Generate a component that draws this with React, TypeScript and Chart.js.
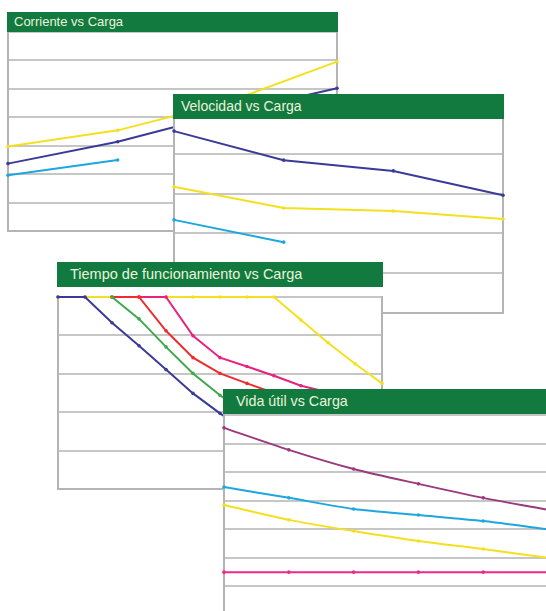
import React, { useEffect, useRef } from "react";
import { Chart, registerables } from "chart.js";

Chart.register(...registerables);

// ---------- Data ----------
const corrienteLabels = ["25%", "50%", "75%", "100%"];
const corrienteYellow = [2.97, 3.54, 4.53, 5.96];
const corrienteBlue = [2.37, 3.14, 4.14, 5.02];
const corrienteCyan = [1.96, 2.5, null, null];

const velocidadLabels = ["25%", "50%", "75%", "100%"];
const velocidadBlue = [4.57, 3.84, 3.57, 2.96];
const velocidadYellow = [3.17, 2.64, 2.56, 2.36];
const velocidadCyan = [2.34, 1.78, null, null];

const tiempoLabels = ["0", "1", "2", "3", "4", "5", "6", "7", "8", "9", "10", "11", "12"];
const tiempoBlue = [5, 5, 4.33, 3.73, 3.11, 2.49, 1.97, 1.5, null, null, null, null, null];
const tiempoGreen = [null, null, 5, 4.43, 3.7, 3.01, 2.44, 1.95, null, null, null, null, null];
const tiempoRed = [null, null, 5, 5, 4.12, 3.42, 3.01, 2.75, 2.5, null, null, null, null];
const tiempoPink = [null, null, null, 5, 5, 3.99, 3.42, 3.19, 2.95, 2.69, 2.52, null, null];
const tiempoYellow = [5, 5, 5, 5, 5, 5, 5, 5, 5, 4.4, 3.81, 3.26, 2.75];

const vidaLabels = ["0", "1", "2", "3", "4", "5"];
const vidaPurple = [6.55, 5.78, 5.11, 4.59, 4.1, 3.68];
const vidaCyan = [4.48, 4.1, 3.71, 3.5, 3.29, 3.0];
const vidaYellow = [3.85, 3.33, 2.94, 2.59, 2.31, 2.0];
const vidaPink = [1.5, 1.5, 1.5, 1.5, 1.5, 1.5];

// ---------- Styles ----------
const YELLOW = "#f4e01e";
const NAVY = "#3a3a98";
const CYAN = "#1ea6de";
const GREEN = "#3fa94e";
const RED = "#ee2c2e";
const PINK = "#e8237f";
const PURPLE = "#9a3a7e";
const PINK2 = "#ec2a8c";
const GRID = "#c6c6c6";
const BORDER = "#b4b4b4";
const HEADER = "#127a3e";
const HEADER_TEXT = "#e9f3dc";

type Series = { data: (number | null)[]; color: string };

type PanelProps = {
  title: string;
  left: number;
  right: number;
  top: number;
  bottom: number;
  headerTop: number;
  headerHeight: number;
  headerWidth: number;
  fontSize: number;
  textPad: number;
  labels: string[];
  yMax: number;
  series: Series[];
  tension: number;
};

function Panel(p: PanelProps) {
  const ref = useRef<HTMLCanvasElement>(null);
  const P = 6;
  const W = p.right - p.left;
  const H = p.bottom - p.top;

  useEffect(() => {
    if (!ref.current) return;
    const chart = new Chart(ref.current, {
      type: "line",
      data: {
        labels: p.labels,
        datasets: p.series.map((s) => ({
          data: s.data,
          borderColor: s.color,
          backgroundColor: s.color,
          borderWidth: 2,
          pointRadius: 1.8,
          pointBorderWidth: 0,
          pointHoverRadius: 1.8,
          tension: p.tension,
          clip: 6,
          spanGaps: false,
        })),
      },
      options: {
        responsive: false,
        animation: false,
        events: [],
        layout: { padding: P },
        plugins: { legend: { display: false }, tooltip: { enabled: false } },
        scales: {
          x: {
            type: "category",
            offset: false,
            grid: { display: false, drawTicks: false },
            ticks: { display: false },
            border: { display: true, color: BORDER, width: 2 },
          },
          y: {
            min: 0,
            max: p.yMax,
            ticks: { display: false, stepSize: 1 },
            grid: { color: GRID, lineWidth: 2, drawTicks: false },
            border: { display: true, color: BORDER, width: 2 },
          },
          y2: {
            position: "right",
            min: 0,
            max: 1,
            ticks: { display: false },
            grid: { display: false, drawTicks: false },
            border: { display: true, color: BORDER, width: 2 },
          },
        },
      },
    } as any);
    return () => chart.destroy();
  }, []);

  return (
    <>
      <div
        style={{
          position: "absolute",
          left: p.left,
          top: p.headerTop,
          width: W + 1,
          height: p.bottom - p.headerTop + 1,
          background: "#ffffff",
        }}
      />
      <canvas
        ref={ref}
        width={W + 2 * P}
        height={H + 2 * P}
        style={{
          position: "absolute",
          left: p.left - P,
          top: p.top - P,
          width: W + 2 * P,
          height: H + 2 * P,
        }}
      />
      <div
        style={{
          position: "absolute",
          left: p.left - 1,
          top: p.headerTop,
          width: p.headerWidth,
          height: p.headerHeight,
          background: HEADER,
          color: HEADER_TEXT,
          fontFamily: '"Liberation Sans", Arial, sans-serif',
          fontSize: p.fontSize,
          lineHeight: p.headerHeight + "px",
          paddingLeft: p.textPad,
          boxSizing: "border-box",
          whiteSpace: "nowrap",
        }}
      >
        {p.title}
      </div>
    </>
  );
}

export default function App() {
  return (
    <div
      style={{
        position: "absolute",
        left: 0,
        top: 0,
        width: 546,
        height: 611,
        overflow: "hidden",
        background: "#ffffff",
      }}
    >
      <Panel
        title="Corriente vs Carga"
        left={8}
        right={337}
        top={31.5}
        bottom={231}
        headerTop={12}
        headerHeight={20}
        headerWidth={331}
        fontSize={13}
        textPad={7}
        labels={corrienteLabels}
        yMax={7}
        tension={0}
        series={[
          { data: corrienteYellow, color: YELLOW },
          { data: corrienteBlue, color: NAVY },
          { data: corrienteCyan, color: CYAN },
        ]}
      />
      <Panel
        title="Velocidad vs Carga"
        left={174}
        right={503}
        top={114}
        bottom={313}
        headerTop={94}
        headerHeight={25}
        headerWidth={331}
        fontSize={14}
        textPad={8}
        labels={velocidadLabels}
        yMax={5}
        tension={0}
        series={[
          { data: velocidadBlue, color: NAVY },
          { data: velocidadYellow, color: YELLOW },
          { data: velocidadCyan, color: CYAN },
        ]}
      />
      <Panel
        title="Tiempo de funcionamiento vs Carga"
        left={58}
        right={382}
        top={296.5}
        bottom={489}
        headerTop={262}
        headerHeight={25}
        headerWidth={326}
        fontSize={14.5}
        textPad={13}
        labels={tiempoLabels}
        yMax={5}
        tension={0}
        series={[
          { data: tiempoBlue, color: NAVY },
          { data: tiempoGreen, color: GREEN },
          { data: tiempoRed, color: RED },
          { data: tiempoPink, color: PINK },
          { data: tiempoYellow, color: YELLOW },
        ]}
      />
      <Panel
        title="Vida útil vs Carga"
        left={224}
        right={548}
        top={415}
        bottom={615}
        headerTop={389}
        headerHeight={25}
        headerWidth={330}
        fontSize={14.3}
        textPad={13}
        labels={vidaLabels}
        yMax={7}
        tension={0.25}
        series={[
          { data: vidaPurple, color: PURPLE },
          { data: vidaCyan, color: CYAN },
          { data: vidaYellow, color: YELLOW },
          { data: vidaPink, color: PINK2 },
        ]}
      />
    </div>
  );
}
